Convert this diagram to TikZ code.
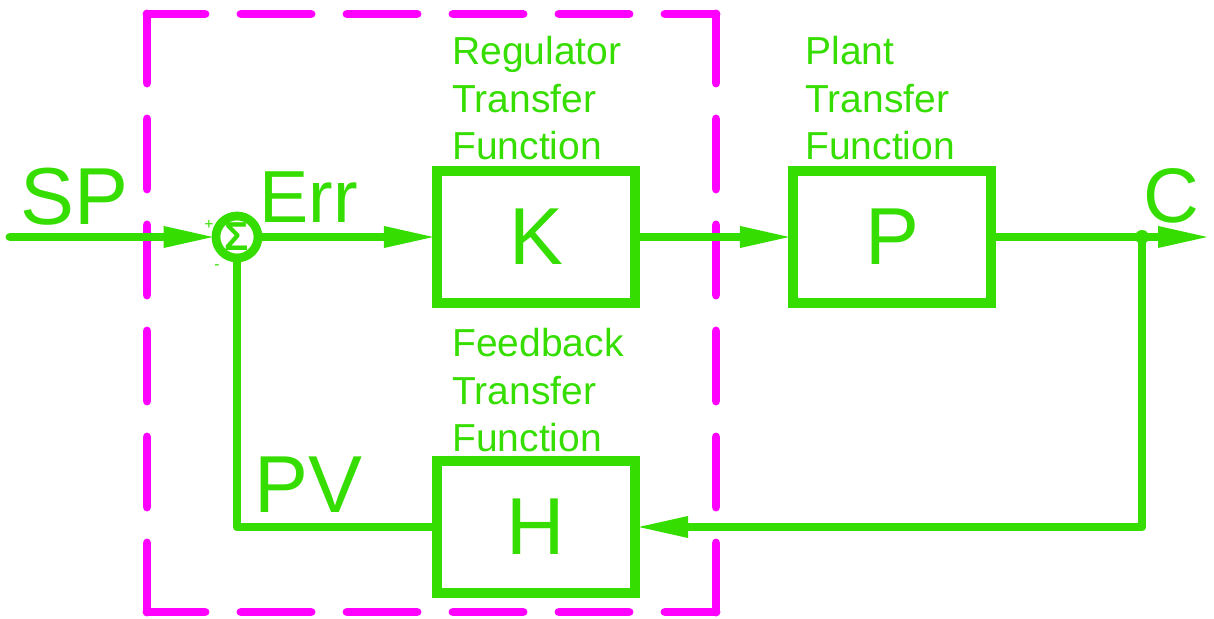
\documentclass[tikz,border=0pt]{standalone}
\usepackage{fontspec}
\setmainfont{Liberation Sans}
\usetikzlibrary{arrows.meta,positioning,calc}
\definecolor{loopgreen}{RGB}{53,222,0}
\definecolor{ctrlpink}{RGB}{255,0,255}

\begin{document}
\begin{tikzpicture}[x=0.2mm,y=-0.2mm,>={Triangle[length=11mm,width=3.8mm]},
  blk/.style={draw=loopgreen,line width=5.7pt,minimum width=39.6mm,minimum height=26.4mm,inner sep=0pt,text=loopgreen,font=\fontsize{46}{46}\selectfont},
  sig/.style={text=loopgreen,inner sep=0pt,anchor=base west,font=\fontsize{46}{46}\selectfont},
  fcap/.style={text=loopgreen,inner sep=0pt,align=left,anchor=base west,font=\fontsize{22.2}{27.3}\selectfont},
  wire/.style={draw=loopgreen,line width=5.1pt,line join=round,shorten >=-1.4mm},
  fence/.style={ctrlpink,line width=5.1pt,line cap=round,dash pattern=on 14mm off 7.2mm}]
\useasboundingbox (0,0) rectangle (1214,619);
% controller boundary
\draw[fence,dash phase=2.4mm] (147,14) -- (716,14);
\draw[fence,dash phase=2.4mm] (147,612) -- (716,612);
\draw[fence,dash phase=0.2mm] (147,14) -- (147,612);
\draw[fence,dash phase=0.2mm] (716,14) -- (716,612);
% blocks
\node[blk] (K) at (536,237) {K};
\node[blk] (P) at (892,237) {P};
\node[blk] (H) at (536,527) {H};
\node[draw=loopgreen,line width=5pt,circle,minimum size=8.4mm,inner sep=0pt,text=loopgreen,font=\bfseries\fontsize{23}{23}\selectfont] (sum) at (237,237) {Σ};
\node[text=loopgreen,inner sep=0pt,font=\fontsize{9}{9}\selectfont] (plus) at (209,225) {+};
\node[text=loopgreen,inner sep=0pt,font=\fontsize{9}{9}\selectfont] (minus) at (217,267) {-};
% labels
\node[sig] (sp) at (20,225) {SP};
\node[sig,font=\fontsize{42}{42}\selectfont] (err) at (259,223) {Err};
\node[sig,font=\fontsize{44}{44}\selectfont] (c) at (1143,223) {C};
\node[sig] (pv) at (254,512) {PV};
\node[fcap] (kcap) at (452,160) {Regulator\\Transfer\\Function};
\node[fcap] (pcap) at (805,160) {Plant\\Transfer\\Function};
\node[fcap] (hcap) at (452,452) {Feedback\\Transfer\\Function};
% signal lines
\coordinate (in) at (10,237);
\coordinate (out) at (1206,237);
\coordinate (tap) at (1142,237);
\draw[wire,->,line cap=round] (in) -- (sum.west);
\draw[wire,->] (sum.east) -- (K.west);
\draw[wire,->] (K.east) -- (P.west);
\draw[wire,->] (P.east) -- (out);
\fill[loopgreen] (tap) circle (1.4mm);
\draw[wire,->] (tap) |- (H.east);
\draw[wire] (H.west) -| (sum.south);
\end{tikzpicture}
\end{document}
